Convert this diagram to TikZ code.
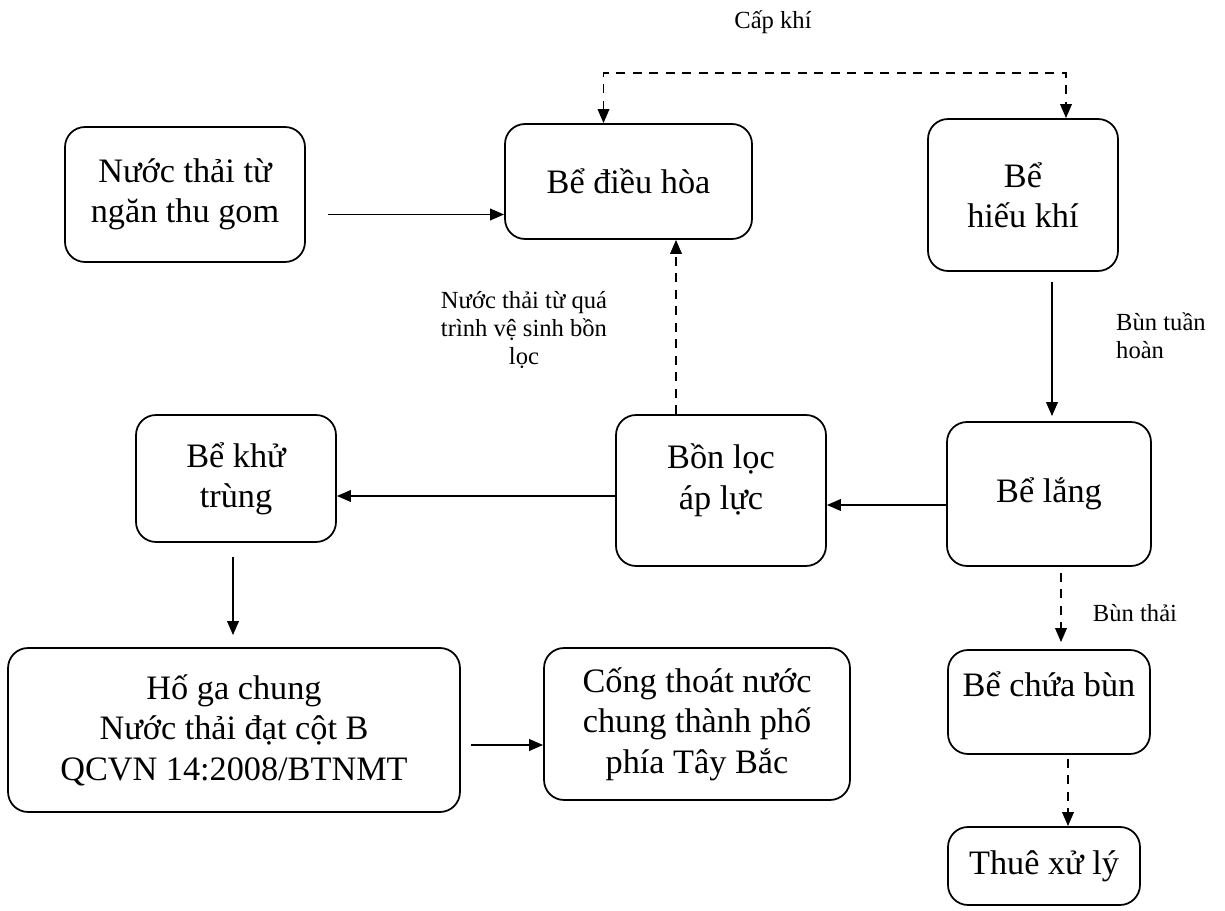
\documentclass[tikz,border=0pt]{standalone}
\usepackage{fontspec}
\setmainfont{Liberation Serif}
\usetikzlibrary{arrows.meta}
\tikzset{>={Triangle[length=2.8mm,width=2.3mm]}}
\tikzset{box/.style={draw,line width=1pt,rounded corners=0.4cm,align=center,inner sep=0pt,font=\fontsize{19.5}{23}\selectfont}}
\tikzset{flow/.style={->,line width=1.1pt}}
\tikzset{air/.style={flow,dash pattern=on 1.8mm off 1.5mm}}
\tikzset{note/.style={align=center,font=\fontsize{14}{16}\selectfont}}

\begin{document}
\begin{tikzpicture}[x=0.02cm,y=-0.02cm]
  \useasboundingbox (0,0) rectangle (1225,911);

  \node[box,minimum width=4.8cm,minimum height=2.7cm] (thugom) at (185,194.5) {Nước thải từ\\ngăn thu gom};
  \node[box,minimum width=4.94cm,minimum height=2.3cm] (dieuhoa) at (628.5,181.5) {Bể điều hòa};
  \node[box,minimum width=3.8cm,minimum height=3.04cm] (hieukhi) at (1023,195) {Bể\\hiếu khí};
  \node[box,minimum width=4cm,minimum height=2.54cm] (khutrung) at (236,478.5) {Bể khử\\trùng};
  \node[box,minimum width=4.2cm,minimum height=3.02cm,text depth=0.55cm] (locapluc) at (721,490.5) {Bồn lọc\\áp lực};
  \node[box,minimum width=4.08cm,minimum height=2.88cm] (lang) at (1049,494) {Bể lắng};
  \node[box,minimum width=9.04cm,minimum height=3.28cm] (hoga) at (234,730) {Hố ga chung\\Nước thải đạt cột B\\QCVN 14:2008/BTNMT};
  \node[box,minimum width=6.12cm,minimum height=3.04cm] (cong) at (697,724) {Cống thoát nước\\chung thành phố\\phía Tây Bắc};
  \node[box,minimum width=4.04cm,minimum height=2.08cm,text depth=0.7cm] (chuabun) at (1049,702) {Bể chứa bùn};
  \node[box,minimum width=3.84cm,minimum height=1.56cm] (thue) at (1044,866) {Thuê xử lý};

  % nhan
  \node[note] (capkhi) at (773,22) {Cấp khí};
  \node[note] (vesinh) at (524,330) {Nước thải từ quá\\trình vệ sinh bồn\\lọc};
  \node[note,anchor=west,align=left] (tuanhoan) at (1110,336) {Bùn tuần\\hoàn};
  \node[note] (bunthai) at (1135,613) {Bùn thải};
  \coordinate (airtop) at (800,73);

  \draw[flow,shorten <=0.44cm] ([shift={(0,20)}]thugom.east) -- ([shift={(0,20)}]thugom.east -| dieuhoa.west);
  \draw[air,<->] ([shift={(-25,0)}]dieuhoa.north) |- (airtop) -| ([shift={(43,0)}]hieukhi.north);
  \draw[air] ([shift={(-45,0)}]locapluc.north) -- ([shift={(-45,0)}]locapluc.north |- dieuhoa.south);
  \draw[flow,shorten <=0.2cm,shorten >=0.1cm] ([shift={(29,0)}]hieukhi.south) -- ([shift={(29,0)}]hieukhi.south |- lang.north);
  \draw[flow] ([shift={(0,11)}]lang.west) -- ([shift={(0,11)}]lang.west -| locapluc.east);
  \draw[flow] ([shift={(0,5.5)}]locapluc.west) -- ([shift={(0,5.5)}]locapluc.west -| khutrung.east);
  \draw[flow,shorten <=0.28cm,shorten >=0.24cm] ([shift={(-3,0)}]khutrung.south) -- ([shift={(-3,0)}]khutrung.south |- hoga.north);
  \draw[flow,shorten <=0.2cm] ([shift={(0,15)}]hoga.east) -- ([shift={(0,15)}]hoga.east -| cong.west);
  \draw[air,shorten <=0.12cm,shorten >=0.14cm] ([shift={(12,0)}]lang.south) -- ([shift={(12,0)}]lang.south |- chuabun.north);
  \draw[air,shorten <=0.08cm] ([shift={(19,0)}]chuabun.south) -- ([shift={(19,0)}]chuabun.south |- thue.north);
\end{tikzpicture}
\end{document}
